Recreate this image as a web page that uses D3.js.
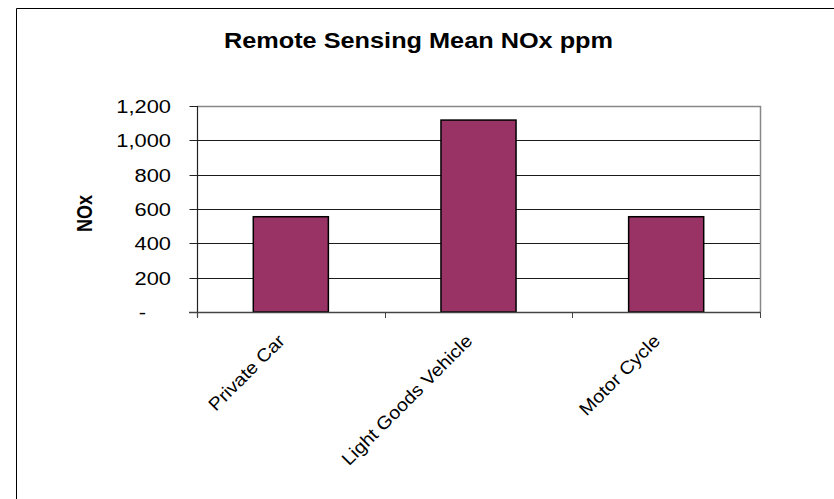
<!DOCTYPE html>
<html>
<head>
<meta charset="utf-8">
<script src="https://cdn.jsdelivr.net/npm/d3@7"></script>
<style>
  html, body { margin: 0; padding: 0; background: #fff; overflow: hidden; width: 834px; height: 499px; }
  svg { display: block; }
  text { font-family: "Liberation Sans", Arial, sans-serif; fill: #000; }
</style>
</head>
<body>
<svg id="chart" width="834" height="499"></svg>
<script>
const categories = ["Private Car", "Light Goods Vehicle", "Motor Cycle"];
const values = [555, 1118, 555];
const tickValues = [0, 200, 400, 600, 800, 1000, 1200];
const tickLabels = ["-", "200", "400", "600", "800", "1,000", "1,200"];
const title = "Remote Sensing Mean NOx ppm";
const yTitle = "NOx";

const svg = d3.select("#chart");
const SX = 1.15; // horizontal stretch of the original rendering

const plot = { left: 197, right: 760, top: 106, bottom: 312 };

// outer chart border (continues beyond the picture)
svg.append("path")
  .attr("d", "M16.5,499V8.5H834")
  .attr("fill", "none").attr("stroke", "#000").attr("stroke-width", 1);

const x = d3.scaleBand().domain(categories).range([plot.left, plot.right]).padding(0);
const y = d3.scaleLinear().domain([0, 1200]).range([plot.bottom, plot.top]);

// gridlines
svg.append("g").selectAll("line")
  .data(tickValues.filter(v => v > 0 && v < 1200))
  .join("line")
  .attr("x1", plot.left).attr("x2", plot.right)
  .attr("y1", d => Math.round(y(d)) + 0.5).attr("y2", d => Math.round(y(d)) + 0.5)
  .attr("stroke", "#1a1a1a").attr("stroke-width", 1);

// plot area border (top & right, gray)
svg.append("path")
  .attr("d", `M${plot.left},${plot.top + 0.5}H${plot.right + 0.5}V${plot.bottom}`)
  .attr("fill", "none").attr("stroke", "#888").attr("stroke-width", 1.5);

// bars
const barW = x.bandwidth() * 0.4;
svg.append("g").selectAll("rect")
  .data(categories.map((c, i) => ({ c, v: values[i] })))
  .join("rect")
  .attr("x", d => x(d.c) + (x.bandwidth() - barW) / 2)
  .attr("y", d => y(d.v))
  .attr("width", barW)
  .attr("height", d => y(0) - y(d.v))
  .attr("fill", "#993366")
  .attr("stroke", "#000").attr("stroke-width", 1.5);

// y axis
const yAxis = svg.append("g").attr("transform", `translate(${plot.left + 0.5},0)`);
yAxis.append("line").attr("x1", 0).attr("x2", 0)
  .attr("y1", plot.top).attr("y2", plot.bottom + 5)
  .attr("stroke", "#222").attr("stroke-width", 1.2);
yAxis.selectAll("line.tick").data(tickValues).join("line")
  .attr("class", "tick")
  .attr("x1", -8).attr("x2", 0)
  .attr("y1", d => Math.round(y(d)) + 0.5).attr("y2", d => Math.round(y(d)) + 0.5)
  .attr("stroke", "#222").attr("stroke-width", 1);

svg.append("g").selectAll("text")
  .data(tickValues.map((v, i) => ({ v, l: tickLabels[i] })))
  .join("text")
  .attr("text-anchor", "end")
  .attr("font-size", 19)
  .attr("transform", d => `translate(${d.l === "-" ? 146 : 171},${y(d.v) + 7}) scale(${SX},1)`)
  .text(d => d.l);

// x axis
const xAxis = svg.append("g");
xAxis.append("line")
  .attr("x1", plot.left - 8).attr("x2", plot.right + 0.5)
  .attr("y1", plot.bottom + 0.5).attr("y2", plot.bottom + 0.5)
  .attr("stroke", "#444").attr("stroke-width", 1.5);
const boundaries = categories.map(c => x(c)).concat([plot.right]);
xAxis.selectAll("line.tick").data(boundaries).join("line")
  .attr("class", "tick")
  .attr("x1", d => Math.round(d) + 0.5).attr("x2", d => Math.round(d) + 0.5)
  .attr("y1", plot.bottom).attr("y2", plot.bottom + 6)
  .attr("stroke", "#444").attr("stroke-width", 1);

svg.append("g").selectAll("text")
  .data(categories)
  .join("text")
  .attr("text-anchor", "end")
  .attr("font-size", 18)
  .attr("transform", d => `translate(${x(d) + x.bandwidth() / 2 - 5},${plot.bottom + 30}) rotate(-45) scale(1.1,1)`)
  .text(d => d);

// title
svg.append("text")
  .attr("text-anchor", "middle")
  .attr("font-size", 22)
  .attr("font-weight", "bold")
  .attr("transform", `translate(418.5,48) scale(${SX},1)`)
  .text(title);

// y axis title
svg.append("text")
  .attr("text-anchor", "middle")
  .attr("font-size", 18)
  .attr("font-weight", "bold")
  .attr("transform", `translate(91.5,213.5) scale(1.25,1) rotate(-90)`)
  .text(yTitle);
</script>
</body>
</html>
